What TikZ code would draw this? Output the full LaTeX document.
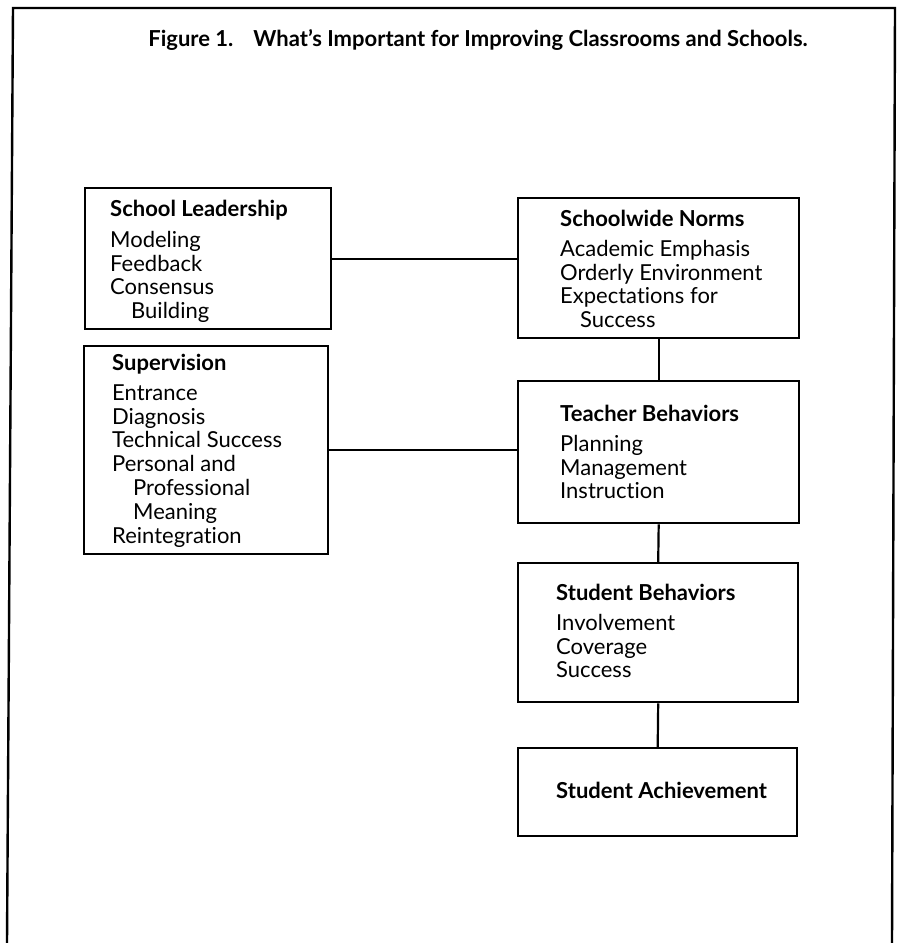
\documentclass[tikz,border=0pt]{standalone}
\usepackage{fontspec}
\setmainfont{Lato}[Ligatures=NoCommon]
\begin{document}
\begin{tikzpicture}[x=1pt,y=-1pt,
  frame/.style={line width=2.4pt},
  box/.style={draw,line width=2.4pt,rectangle,anchor=north west,inner sep=0pt},
  link/.style={line width=2.2pt},
  txt/.style={anchor=north west,inner sep=0pt,align=left,font=\fontsize{22}{23.8}\selectfont}
]
\useasboundingbox (0,0) rectangle (903,943);
% outer frame (open at the bottom)
\coordinate (fbl) at (7,943);
\coordinate (ftl) at (13,8);
\coordinate (ftr) at (895,8);
\coordinate (fbr) at (892,943);
\draw[frame] (fbl) -- (ftl) -- (ftr) -- (fbr);
% title
\node[anchor=center,inner sep=0pt,font=\fontsize{22}{26}\bfseries\selectfont] (title) at (478,40)
  {Figure 1.\hspace{20pt}What’s Important for Improving Classrooms and Schools.};
% boxes
\node[box,minimum width=246,minimum height=141] (lead) at (84,187) {};
\node[box,minimum width=244,minimum height=208] (sup) at (83,345) {};
\node[box,minimum width=281,minimum height=140] (norms) at (517,197) {};
\node[box,minimum width=281,minimum height=142] (teach) at (517,380) {};
\node[box,minimum width=280,minimum height=139] (stud) at (517,562) {};
\node[box,minimum width=279,minimum height=88] (ach) at (517,747) {};
% texts
\node[txt] (leadt) at (110,200) {\textbf{School Leadership}\\[7pt]Modeling\\Feedback\\Consensus\\\hspace{21pt}Building};
\node[txt] (supt) at (112,354) {\textbf{Supervision}\\[6pt]Entrance\\Diagnosis\\Technical Success\\Personal and\\\hspace{21pt}Professional\\\hspace{21pt}Meaning\\Reintegration};
\node[txt] (normst) at (560,210) {\textbf{Schoolwide Norms}\\[6pt]Academic Emphasis\\Orderly Environment\\Expectations for\\\hspace{20pt}Success};
\node[txt] (teacht) at (560,405) {\textbf{Teacher Behaviors}\\[6pt]Planning\\Management\\Instruction};
\node[txt] (studt) at (556,584) {\textbf{Student Behaviors}\\[6pt]Involvement\\Coverage\\Success};
\node[txt] (acht) at (556,782) {\textbf{Student Achievement}};
% connectors
\draw[link] (lead.east) -- (lead.east -| norms.west);
\draw[link] (sup.east) -- (sup.east -| teach.west);
\draw[link] (norms.south) -- (teach.north);
\draw[link] (teach.south) -- (stud.north);
\draw[link] (stud.south) -- (ach.north);
\end{tikzpicture}
\end{document}
